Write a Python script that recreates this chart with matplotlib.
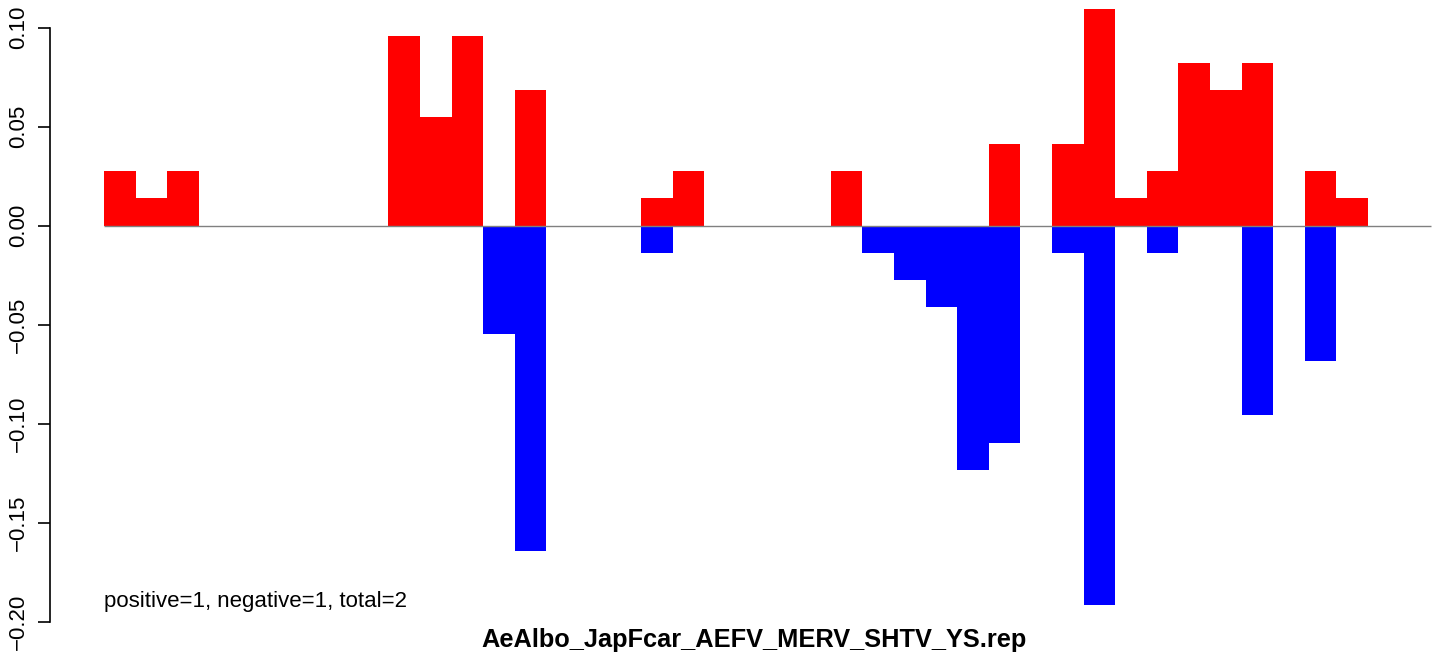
import matplotlib
matplotlib.use("Agg")
import numpy as np
import matplotlib.pyplot as plt

plt.rcParams["font.family"] = ["Liberation Sans", "DejaVu Sans"]

# 42 bins, positive and negative fractions per bin
pos_vals = [0.0274, 0.0137, 0.0274, 0, 0, 0, 0, 0, 0, 0.0959,
            0.0548, 0.0959, 0, 0.0685, 0, 0, 0, 0.0137, 0.0274, 0,
            0, 0, 0, 0.0274, 0, 0, 0, 0, 0.0411, 0,
            0.0411, 0.1096, 0.0137, 0.0274, 0.0822, 0.0685, 0.0822, 0, 0.0274, 0.0137,
            0, 0]
neg_vals = [0, 0, 0, 0, 0, 0, 0, 0, 0, 0,
            0, 0, -0.0548, -0.1644, 0, 0, 0, -0.0137, 0, 0,
            0, 0, 0, 0, -0.0137, -0.0274, -0.0411, -0.1233, -0.1096, 0,
            -0.0137, -0.1918, 0, -0.0137, 0, 0, -0.0959, 0, -0.0685, 0,
            0, 0]
y_ticks = [-0.20, -0.15, -0.10, -0.05, 0.00, 0.05, 0.10]
y_ticklabels = ["\u22120.20", "\u22120.15", "\u22120.10", "\u22120.05", "0.00", "0.05", "0.10"]
note = "positive=1, negative=1, total=2"
title = "AeAlbo_JapFcar_AEFV_MERV_SHTV_YS.rep"

W, H = 1444, 656
fig = plt.figure(figsize=(W / 100, H / 100), dpi=100)
ax = fig.add_axes([50 / W, 16 / H, 1390 / W, 640 / H])

x = np.arange(len(pos_vals))
ax.bar(x, pos_vals, width=1.0, align="edge", color="#ff0000", linewidth=0)
ax.bar(x, neg_vals, width=1.0, align="edge", color="#0000ff", linewidth=0)
ax.hlines(0, 0, len(pos_vals), color="#808080", linewidth=1.0, zorder=3)

ax.set_xlim(-1.709, 42.28)
ax.set_ylim(-0.2093, 0.1139)

for s in ["top", "right", "bottom"]:
    ax.spines[s].set_visible(False)
ax.spines["left"].set_bounds(-0.2, 0.1)
ax.spines["left"].set_linewidth(1.2)
ax.set_xticks([])
ax.set_yticks(y_ticks)
ax.set_yticklabels(y_ticklabels, rotation=90, va="center", fontsize=16)
ax.tick_params(axis="y", length=9, width=1.2, pad=6)

ax.text(0, -0.19, note, fontsize=16, ha="left", va="center")
fig.text(754 / W, (H - 640) / H, title, fontsize=18.3, fontweight="bold",
         ha="center", va="center")

fig.savefig("out.png", dpi=100)
